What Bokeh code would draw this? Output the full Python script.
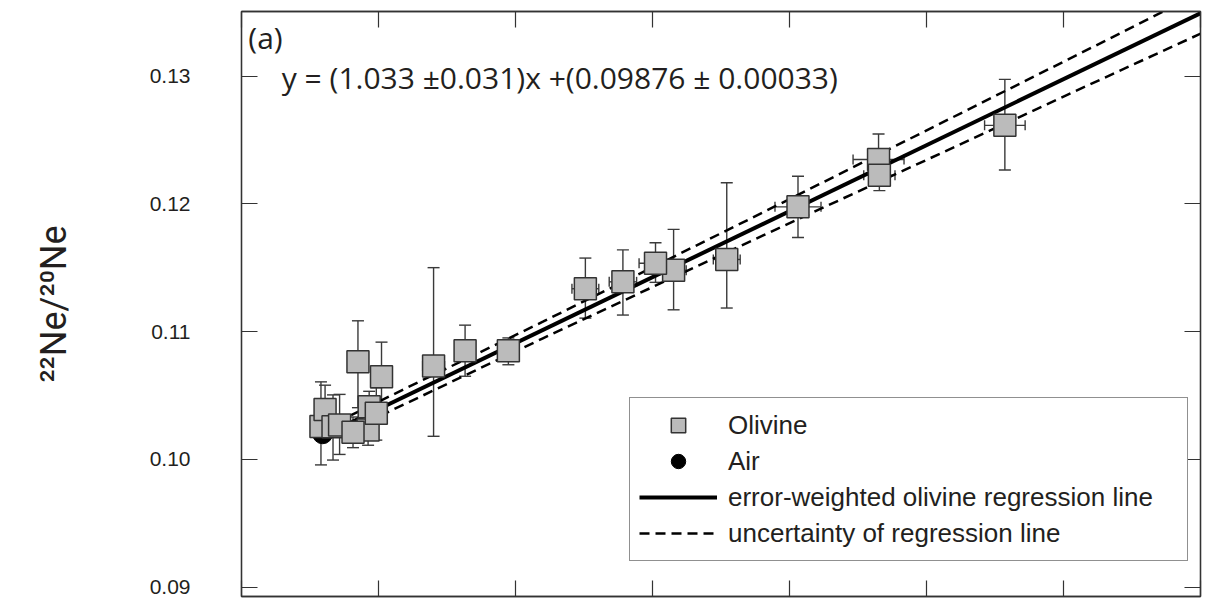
from bokeh.plotting import figure
from bokeh.models import (ColumnDataSource, Whisker, TeeHead, Label, Legend, LegendItem,
                          LinearAxis, FixedTicker, Range1d, PrintfTickFormatter,
                          CustomJSTickFormatter)
from bokeh.embed import file_html
from bokeh.resources import INLINE

# ---------------- data ----------------
# olivine 21Ne/20Ne (x) and 22Ne/20Ne (y) with 1-sigma errors
ol_x = [0.00290, 0.00305, 0.00334, 0.00358, 0.00466, 0.00462, 0.00407, 0.00425,
        0.00492, 0.00511, 0.00701, 0.00816, 0.00974, 0.01255, 0.01392, 0.01577,
        0.01511, 0.01771, 0.02031, 0.02325, 0.02328, 0.02786]
ol_y = [0.10256, 0.10390, 0.10254, 0.10268, 0.10412, 0.10230, 0.10211, 0.10764,
        0.10360, 0.10647, 0.10730, 0.10850, 0.10850, 0.11335, 0.11389, 0.11480,
        0.11535, 0.11564, 0.11976, 0.12346, 0.12223, 0.12614]
ol_yerr_up = [0.0035, 0.0019, 0.0025, 0.0024, 0.0012, 0.0012, 0.0012, 0.0032,
              0.0020, 0.0027, 0.0077, 0.0020, 0.0010, 0.0024, 0.0025, 0.0032,
              0.0016, 0.0060, 0.0024, 0.0020, 0.0010, 0.0036]
ol_yerr_dn = [0.0030, 0.0019, 0.0026, 0.0023, 0.0012, 0.0012, 0.0012, 0.0036,
              0.0021, 0.0025, 0.0055, 0.0020, 0.0011, 0.0023, 0.0026, 0.0031,
              0.0015, 0.0038, 0.0024, 0.0012, 0.0012, 0.0035]
ol_xerr = [0.0001, 0.0001, 0.0001, 0.0001, 0.0001, 0.0001, 0.0001, 0.0001,
           0.0002, 0.0002, 0.0004, 0.0002, 0.0002, 0.00049, 0.0005, 0.00046,
           0.0006, 0.00049, 0.00084, 0.00093, 0.00057, 0.00074]

air_x = [0.00296]
air_y = [0.1020]

# error-weighted regression y = slope*x + intercept
slope = 1.033
intercept = 0.09876
reg_x = [0.0035, 0.037]
reg_y = [slope * v + intercept for v in reg_x]

# uncertainty envelope of the regression line
band_x = [0.0040, 0.0060, 0.0110, 0.0190, 0.0315, 0.0370]
band_upper = [0.10345, 0.10556, 0.11077, 0.11929, 0.13273, 0.13868]
band_lower = [0.10233, 0.10436, 0.10947, 0.11749, 0.12987, 0.13528]

x_ticks = [0.0, 0.005, 0.010, 0.015, 0.020, 0.025, 0.030, 0.035]
y_ticks = [0.09, 0.10, 0.11, 0.12, 0.13]

equation = "y = (1.033 \u00b10.031)x +(0.09876 \u00b1 0.00033)"
y_title = "\u00b2\u00b2Ne/\u00b2\u2070Ne"

# ---------------- figure ----------------
TXT = "#231f20"
p = figure(width=1222, height=600,
           x_range=Range1d(0.0, 0.035), y_range=Range1d(0.08926, 0.13505),
           x_axis_location=None, y_axis_location=None,
           output_backend="svg", toolbar_location=None,
           min_border_left=241, min_border_right=22,
           min_border_top=11, min_border_bottom=4)
p.background_fill_color = "white"
p.border_fill_color = "white"
p.outline_line_color = "#333333"
p.outline_line_width = 1.3
p.xgrid.visible = False
p.ygrid.visible = False

blank = CustomJSTickFormatter(code="return ''")


def style_axis(ax, ticks, labels):
    ax.ticker = FixedTicker(ticks=ticks)
    ax.major_tick_in = 16
    ax.major_tick_out = 0
    ax.minor_tick_line_color = None
    ax.axis_line_color = "#333333"
    ax.axis_line_width = 1.3
    ax.major_tick_line_color = "#333333"
    ax.major_tick_line_width = 1.2
    if not labels:
        ax.formatter = blank
        ax.major_label_text_font_size = "0px"
        ax.major_label_standoff = 0


left = LinearAxis()
style_axis(left, y_ticks, True)
left.formatter = PrintfTickFormatter(format="%.2f")
left.major_label_text_font = "Liberation Sans"
left.major_label_text_font_size = "21px"
left.major_label_text_color = TXT
left.major_label_standoff = 51
left.axis_label = y_title
left.axis_label_text_font = "Roboto"
left.axis_label_text_font_size = "36px"
left.axis_label_text_font_style = "normal"
left.axis_label_text_color = TXT
left.axis_label_standoff = 72
p.add_layout(left, "left")

right = LinearAxis()
style_axis(right, y_ticks, False)
p.add_layout(right, "right")

top = LinearAxis()
style_axis(top, x_ticks, False)
p.add_layout(top, "above")

bottom = LinearAxis()
style_axis(bottom, x_ticks, False)
p.add_layout(bottom, "below")

# regression line and its uncertainty
r_up = p.line(band_x, band_upper, line_color="black", line_width=2.5, line_dash="10 6")
r_lo = p.line(band_x, band_lower, line_color="black", line_width=2.5, line_dash="10 6")
r_reg = p.line(reg_x, reg_y, line_color="black", line_width=4)

# error bars
src = ColumnDataSource(dict(
    x=ol_x, y=ol_y,
    y_hi=[y + e for y, e in zip(ol_y, ol_yerr_up)],
    y_lo=[y - e for y, e in zip(ol_y, ol_yerr_dn)],
    x_hi=[x + e for x, e in zip(ol_x, ol_xerr)],
    x_lo=[x - e for x, e in zip(ol_x, ol_xerr)],
))
EB = "#3a3a3a"
wy = Whisker(source=src, base="x", upper="y_hi", lower="y_lo", dimension="height",
             line_color=EB, line_width=1.4, level="underlay",
             upper_head=TeeHead(size=12, line_color=EB, line_width=1.4),
             lower_head=TeeHead(size=12, line_color=EB, line_width=1.4))
wx = Whisker(source=src, base="y", upper="x_hi", lower="x_lo", dimension="width",
             line_color=EB, line_width=1.4, level="underlay",
             upper_head=TeeHead(size=10, line_color=EB, line_width=1.4),
             lower_head=TeeHead(size=10, line_color=EB, line_width=1.4))
p.add_layout(wy)
p.add_layout(wx)

r_air = p.scatter(air_x, air_y, marker="circle", size=20,
                  fill_color="black", line_color="black")
r_ol = p.scatter("x", "y", source=src, marker="square", size=22,
                 fill_color="#bbbbbb", line_color="#333333", line_width=1.5)

# texts
p.add_layout(Label(x=0.00025, y=0.13300, text="(a)", text_font="Open Sans",
                   text_font_size="30px", text_color=TXT, text_baseline="alphabetic"))
p.add_layout(Label(x=0.00147, y=0.12987, text=equation, text_font="Open Sans",
                   text_font_size="30px", text_color=TXT, text_baseline="alphabetic"))

legend = Legend(items=[
    LegendItem(label="Olivine", renderers=[r_ol]),
    LegendItem(label="Air", renderers=[r_air]),
    LegendItem(label="error-weighted olivine regression line", renderers=[r_reg]),
    LegendItem(label="uncertainty of regression line", renderers=[r_up]),
], location=(388, 35), glyph_width=78, glyph_height=36, spacing=0, padding=9,
    label_standoff=11, label_width=450, margin=0,
    label_text_font="Liberation Sans", label_text_font_size="26px", label_text_color=TXT,
    border_line_color="#222222", border_line_width=1.3,
    background_fill_color="white", background_fill_alpha=1.0)
p.add_layout(legend)

open("out.html", "w").write(file_html(p, INLINE))
